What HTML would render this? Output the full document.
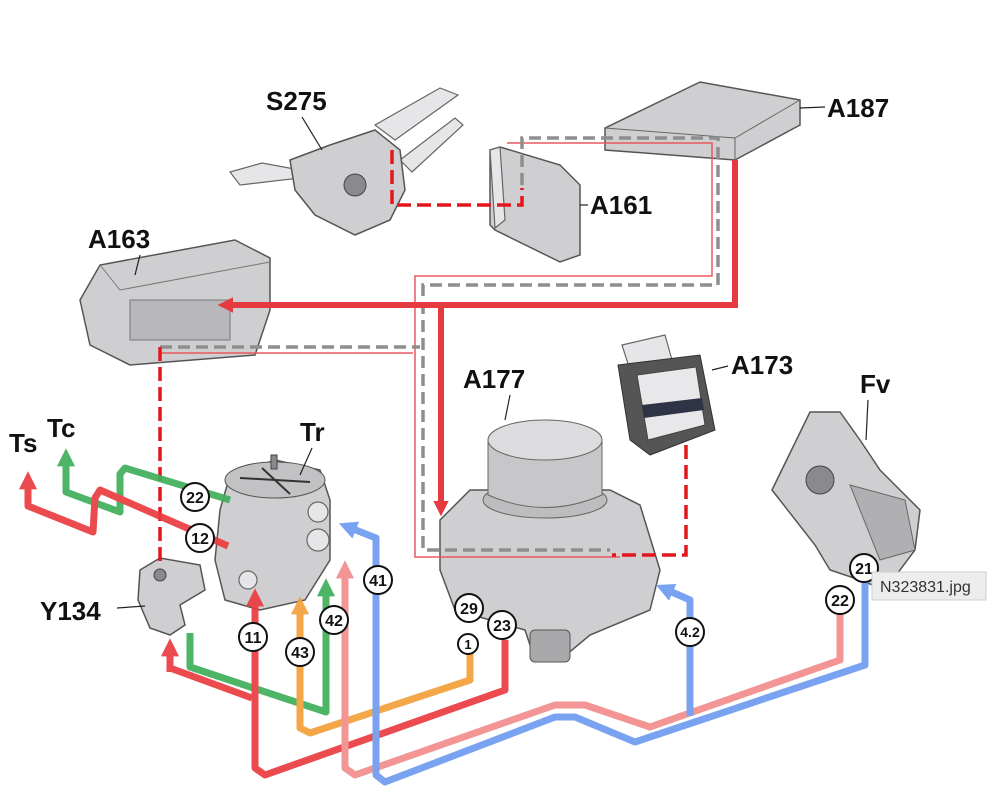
<!DOCTYPE html>
<html><head><meta charset="utf-8"><style>
html,body{margin:0;padding:0;background:#fff;}
svg{display:block;font-family:"Liberation Sans",Arial,sans-serif;}
.lbl{font-weight:bold;font-size:26px;fill:#111;}
.c circle{fill:#fff;stroke:#111;stroke-width:2;}
.c text{font-weight:bold;font-size:16px;text-anchor:middle;fill:#111;}
.part{fill:#cfcfd2;stroke:#555;stroke-width:1.5;}
.part2{fill:#e6e6e8;stroke:#666;stroke-width:1.2;}
.dk{fill:#8a8a8e;stroke:#444;stroke-width:1;}
</style></head><body>
<svg width="1000" height="796" viewBox="0 0 1000 796" xmlns="http://www.w3.org/2000/svg">
<defs>
<marker id="ar" markerWidth="2.6" markerHeight="2.6" refX="1.2" refY="1.3" orient="auto" markerUnits="strokeWidth"><path d="M0,0 L2.6,1.3 L0,2.6 z" fill="context-stroke"/></marker>
</defs>

<!-- S275 -->
<g>
<path class="part2" d="M375,125 L440,88 L458,95 L395,140 Z"/>
<path class="part2" d="M400,160 L455,118 L463,125 L412,172 Z"/>
<path class="part2" d="M230,172 L262,163 L300,170 L300,178 L240,185 Z"/>
<path class="part" d="M290,160 L330,145 L375,130 L400,150 L405,190 L390,220 L355,235 L315,215 L295,190 Z"/>
<circle cx="355" cy="185" r="11" class="dk"/>
</g>
<!-- A187 -->
<g>
<path class="part" d="M605,128 L700,82 L800,100 L800,125 L735,160 L605,150 Z"/>
<path d="M605,128 L735,138 L800,100" fill="none" stroke="#666"/>
<path d="M735,138 L735,160" stroke="#666"/>
</g>
<!-- A161 -->
<g>
<path class="part" d="M490,150 L500,147 L560,165 L580,185 L580,255 L560,262 L495,230 L490,225 Z"/>
<path class="part2" d="M490,150 L500,147 L505,220 L495,228 Z"/>
</g>
<!-- A163 -->
<g>
<path class="part" d="M80,300 L100,265 L235,240 L270,258 L270,310 L255,355 L130,365 L90,345 Z"/>
<path d="M100,265 L120,290 L270,262" fill="none" stroke="#777"/>
<rect x="130" y="300" width="100" height="40" fill="#b8b8bc" stroke="#777"/>
</g>
<!-- A173 -->
<g>
<path class="part2" d="M622,345 L665,335 L672,360 L630,370 Z"/>
<path d="M618,365 L700,355 L715,430 L650,455 L630,440 Z" fill="#555" stroke="#333"/>
<path d="M637,375 L696,367 L705,425 L648,440 Z" fill="#e8e8ea" stroke="#444"/>
<path d="M642,405 L702,398 L704,410 L644,418 Z" fill="#2e3346"/>
</g>
<!-- A177 -->
<g>
<path class="part" d="M440,520 L470,490 L610,490 L640,505 L660,570 L650,610 L590,635 L560,660 L535,660 L525,630 L455,610 L440,570 Z"/>
<ellipse cx="545" cy="500" rx="62" ry="18" fill="#bdbdc0" stroke="#666"/>
<path d="M488,440 L488,495 Q545,520 602,495 L602,440 Z" fill="#c7c7ca" stroke="#666"/>
<ellipse cx="545" cy="440" rx="57" ry="20" fill="#dcdcde" stroke="#666"/>
<rect x="530" y="630" width="40" height="32" rx="5" fill="#a9a9ac" stroke="#555"/>
</g>
<!-- Fv -->
<g>
<path class="part" d="M772,490 L810,412 L840,412 L860,440 L880,470 L920,510 L915,550 L885,590 L860,580 L830,570 L815,545 Z"/>
<path d="M850,485 L905,500 L915,550 L880,560 Z" fill="#b0b0b3" stroke="#666"/>
<circle cx="820" cy="480" r="14" class="dk"/>
</g>
<!-- Tr -->
<g>
<path class="part" d="M220,510 L230,475 L275,460 L320,470 L330,500 L330,560 L305,600 L260,610 L225,600 L215,560 Z"/>
<ellipse cx="275" cy="480" rx="50" ry="18" fill="#c2c2c5" stroke="#555"/>
<path d="M240,478 L310,482 M262,468 L290,494" stroke="#333" stroke-width="2"/>
<circle cx="318" cy="540" r="11" class="part2"/>
<circle cx="318" cy="512" r="10" class="part2"/>
<circle cx="248" cy="580" r="9" class="part2"/>
<rect x="271" y="455" width="6" height="14" class="dk"/>
</g>
<!-- Y134 -->
<g>
<path class="part" d="M140,570 L160,558 L200,565 L205,590 L180,605 L185,625 L170,635 L150,628 L138,600 Z"/>
<circle cx="160" cy="575" r="6" class="dk"/>
</g>

<g fill="none">
<path d="M507,143 L712,143 L712,276 L415,276 L415,557 L620,557" stroke="#e8595e" stroke-width="1.5"/>
<path d="M160,353 L413,353" stroke="#e8595e" stroke-width="1.5"/>
<path d="M522,185 L522,138 L718,138 L718,285 L423,285 L423,550 L610,550" stroke="#8e8e8e" stroke-width="3.5" stroke-dasharray="12,6"/>
<path d="M160,347 L420,347" stroke="#8e8e8e" stroke-width="3.5" stroke-dasharray="12,6"/>
<path d="M392,150 L392,205 L522,205 L522,188" stroke="#e3161c" stroke-width="3.5" stroke-dasharray="14,6"/>
<path d="M160,347 L160,562" stroke="#e3161c" stroke-width="3.5" stroke-dasharray="14,6"/>
<path d="M686,445 L686,555 L612,555" stroke="#e3161c" stroke-width="3.5" stroke-dasharray="14,6"/>
<path d="M735,160 L735,305 L226,305" stroke="#e53a3f" stroke-width="6" marker-end="url(#ar)"/>
<path d="M441,306 L441,508" stroke="#e53a3f" stroke-width="6" marker-end="url(#ar)"/>
</g>

<g fill="none" stroke-linejoin="round" stroke-width="7" opacity="0.92">
<path d="M230,500 L125,468 L120,474 L120,512 L66,492 L66,458" stroke="#3fae5a" marker-end="url(#ar)"/>
<path d="M228,546 L100,490 L95,498 L93,532 L28,506 L28,481" stroke="#ea3b3f" marker-end="url(#ar)"/>
<path d="M190,633 L190,667 L326,712 L326,588" stroke="#3fae5a" marker-end="url(#ar)"/>
<path d="M170,668 L252,698" stroke="#ea3b3f"/>
<path d="M170,672 L170,648" stroke="#ea3b3f" marker-end="url(#ar)"/>
<path d="M470,640 L470,680 L310,733 L300,728 L300,606" stroke="#f3a03a" marker-end="url(#ar)"/>
<path d="M505,640 L505,690 L265,775 L255,768 L255,598" stroke="#ea3b3f" marker-end="url(#ar)"/>
<path d="M840,612 L840,660 L650,727 L585,705 L555,705 L355,775 L345,768 L345,570" stroke="#f28b8d" marker-end="url(#ar)"/>
<path d="M865,575 L865,665 L635,742 L575,717 L555,717 L385,782 L376,775 L376,538 L348,527" stroke="#6e9cef" marker-end="url(#ar)"/>
<path d="M690,716 L690,600 L665,589" stroke="#6e9cef" marker-end="url(#ar)"/>
</g>

<g stroke="#222" stroke-width="1.2">
<line x1="302" y1="117" x2="322" y2="150"/>
<line x1="800" y1="108" x2="825" y2="107"/>
<line x1="580" y1="205" x2="588" y2="205"/>
<line x1="140" y1="255" x2="135" y2="275"/>
<line x1="510" y1="395" x2="505" y2="420"/>
<line x1="712" y1="370" x2="728" y2="366"/>
<line x1="868" y1="400" x2="866" y2="440"/>
<line x1="312" y1="448" x2="300" y2="475"/>
<line x1="117" y1="608" x2="145" y2="606"/>
</g>

<text class="lbl" x="266" y="110">S275</text>
<text class="lbl" x="827" y="117">A187</text>
<text class="lbl" x="590" y="214">A161</text>
<text class="lbl" x="88" y="248">A163</text>
<text class="lbl" x="463" y="388">A177</text>
<text class="lbl" x="731" y="374">A173</text>
<text class="lbl" x="860" y="393">Fv</text>
<text class="lbl" x="300" y="441">Tr</text>
<text class="lbl" x="40" y="620">Y134</text>
<text class="lbl" x="9" y="452">Ts</text>
<text class="lbl" x="47" y="437">Tc</text>

<g class="c">
<g transform="translate(195,497)"><circle r="14"/><text y="6">22</text></g>
<g transform="translate(200,538)"><circle r="14"/><text y="6">12</text></g>
<g transform="translate(253,637)"><circle r="14"/><text y="6">11</text></g>
<g transform="translate(300,652)"><circle r="14"/><text y="6">43</text></g>
<g transform="translate(334,620)"><circle r="14"/><text y="6">42</text></g>
<g transform="translate(378,580)"><circle r="14"/><text y="6">41</text></g>
<g transform="translate(469,608)"><circle r="14"/><text y="6">29</text></g>
<g transform="translate(468,644)"><circle r="10"/><text y="5" style="font-size:13px">1</text></g>
<g transform="translate(502,625)"><circle r="14"/><text y="6">23</text></g>
<g transform="translate(690,632)"><circle r="14"/><text y="5" style="font-size:14px">4.2</text></g>
<g transform="translate(840,600)"><circle r="14"/><text y="6">22</text></g>
<g transform="translate(864,568)"><circle r="14"/><text y="6">21</text></g>
</g>

<rect x="872" y="572" width="114" height="28" fill="#ededed" stroke="#cfcfcf"/>
<text x="880" y="592" font-size="16" fill="#333">N323831.jpg</text>
</svg>
</body></html>
